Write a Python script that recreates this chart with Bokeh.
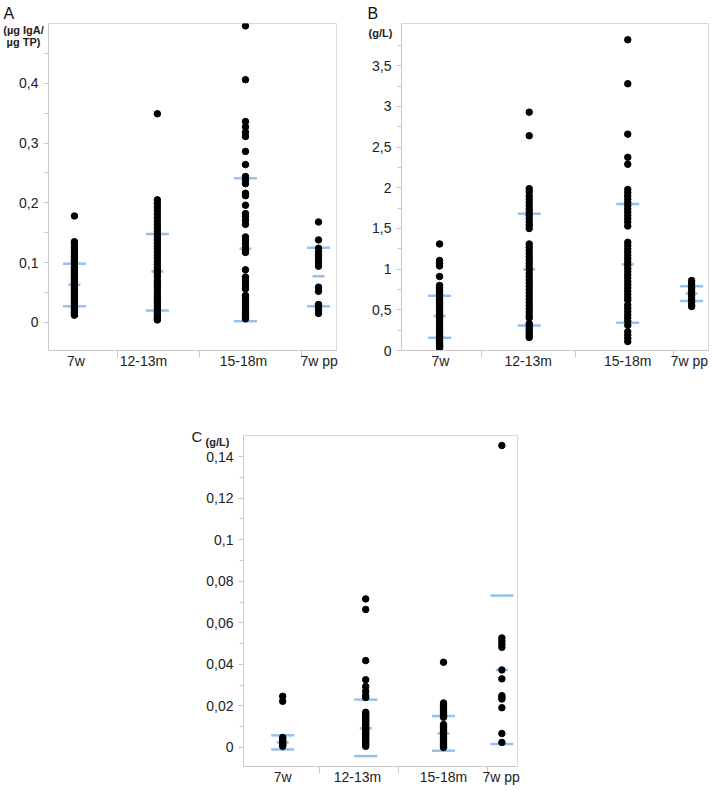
from bokeh.plotting import figure
from bokeh.models import FixedTicker, Label, Range1d, Spacer, ColumnDataSource, Title
from bokeh.layouts import column, row
from bokeh.embed import file_html
from bokeh.resources import INLINE

categories = ["7w", "12-13m", "15-18m", "7w pp"]

# ---------------- Panel A: (µg IgA / µg TP) ----------------
a_7w = [0.178, 0.135, 0.131, 0.126, 0.122, 0.118, 0.114, 0.11, 0.106, 0.102, 0.099, 0.096,
        0.092, 0.089, 0.086, 0.083, 0.08, 0.077, 0.074, 0.071, 0.068, 0.065, 0.062, 0.059,
        0.056, 0.053, 0.05, 0.047, 0.044, 0.041, 0.038, 0.035, 0.032, 0.029, 0.026, 0.023,
        0.02, 0.017, 0.014, 0.012]
a_12_13m = [0.349, 0.205, 0.199, 0.193, 0.187, 0.181, 0.175, 0.169, 0.163, 0.158, 0.153, 0.148,
            0.143, 0.138, 0.133, 0.128, 0.123, 0.118, 0.113, 0.108, 0.102, 0.097, 0.092, 0.088,
            0.084, 0.08, 0.076, 0.07, 0.066, 0.062, 0.058, 0.053, 0.048, 0.044, 0.04, 0.036,
            0.032, 0.028, 0.024, 0.02, 0.016, 0.012, 0.009, 0.006, 0.004]
a_15_18m = [0.496, 0.406, 0.336, 0.327, 0.318, 0.311, 0.286, 0.264, 0.244, 0.238, 0.232, 0.216,
            0.212, 0.196, 0.182, 0.177, 0.171, 0.164, 0.143, 0.138, 0.132, 0.127, 0.121, 0.117,
            0.088, 0.076, 0.071, 0.066, 0.061, 0.056, 0.045, 0.041, 0.037, 0.033, 0.029, 0.025,
            0.021, 0.017, 0.013, 0.009, 0.006]
a_7w_pp = [0.168, 0.138, 0.124, 0.118, 0.112, 0.106, 0.1, 0.094, 0.059, 0.052, 0.03, 0.025,
           0.02, 0.015]
a_upper = [0.098, 0.148, 0.241, 0.125]
a_mean = [0.063, 0.085, 0.123, 0.077]
a_lower = [0.027, 0.02, 0.002, 0.027]
a_ticks = [0, 0.1, 0.2, 0.3, 0.4]
a_tick_labels = ["0", "0,1", "0,2", "0,3", "0,4"]
a_minor = [0.05, 0.15, 0.25, 0.35, 0.45]

# ---------------- Panel B: (g/L) ----------------
b_7w = [1.31, 1.107, 1.07, 1.04, 0.91, 0.8, 0.775, 0.75, 0.725, 0.7, 0.675, 0.65, 0.625, 0.6,
        0.575, 0.55, 0.525, 0.5, 0.475, 0.45, 0.425, 0.4, 0.375, 0.35, 0.325, 0.3, 0.275, 0.25,
        0.225, 0.2, 0.175, 0.15, 0.125, 0.1, 0.08, 0.06, 0.045, 0.03]
b_12_13m = [2.93, 2.64, 1.99, 1.95, 1.9, 1.86, 1.82, 1.78, 1.74, 1.7, 1.66, 1.62, 1.58, 1.54,
            1.5, 1.31, 1.27, 1.23, 1.19, 1.15, 1.11, 1.07, 1.03, 0.99, 0.95, 0.91, 0.87, 0.83,
            0.79, 0.75, 0.71, 0.67, 0.63, 0.59, 0.55, 0.51, 0.47, 0.43, 0.4, 0.33, 0.3, 0.27,
            0.24, 0.21, 0.18, 0.16]
b_15_18m = [3.82, 3.28, 2.66, 2.375, 2.29, 1.98, 1.94, 1.9, 1.86, 1.82, 1.78, 1.74, 1.7, 1.66,
            1.62, 1.58, 1.53, 1.33, 1.29, 1.25, 1.21, 1.17, 1.13, 1.09, 1.05, 1.01, 0.97, 0.93,
            0.89, 0.85, 0.81, 0.77, 0.73, 0.69, 0.65, 0.62, 0.56, 0.52, 0.48, 0.44, 0.4, 0.36,
            0.31, 0.23, 0.19, 0.15, 0.11]
b_7w_pp = [0.86, 0.83, 0.8, 0.77, 0.74, 0.71, 0.68, 0.65, 0.62, 0.59, 0.56, 0.54]
b_upper = [0.673, 1.68, 1.80, 0.79]
b_mean = [0.425, 0.998, 1.06, 0.70]
b_lower = [0.157, 0.307, 0.34, 0.61]
b_ticks = [0, 0.5, 1, 1.5, 2, 2.5, 3, 3.5]
b_tick_labels = ["0", "0,5", "1", "1,5", "2", "2,5", "3", "3,5"]
b_minor = [0.25, 0.75, 1.25, 1.75, 2.25, 2.75, 3.25, 3.75]

# ---------------- Panel C: (g/L) ----------------
c_7w = [0.0246, 0.0222, 0.0048, 0.0042, 0.0036, 0.003, 0.0025, 0.002, 0.0015, 0.001, 0.0005]
c_12_13m = [0.0715, 0.0664, 0.0418, 0.0326, 0.0293, 0.027, 0.025, 0.024, 0.0169, 0.0162,
            0.0155, 0.0148, 0.014, 0.0132, 0.0125, 0.0118, 0.011, 0.0102, 0.0095, 0.0088,
            0.008, 0.0072, 0.0065, 0.0058, 0.005, 0.0042, 0.0035, 0.0028, 0.002, 0.0012, 0.0005]
c_15_18m = [0.041, 0.0214, 0.0205, 0.0196, 0.0187, 0.0178, 0.0169, 0.016, 0.0152, 0.0145,
            0.011, 0.0102, 0.0094, 0.0086, 0.0078, 0.007, 0.0062, 0.0054, 0.0046, 0.0038,
            0.003, 0.0022, 0.0014, 0.0006, 0.0]
c_7w_pp = [0.1454, 0.0527, 0.0512, 0.0497, 0.0482, 0.0373, 0.033, 0.0249, 0.0241, 0.0233,
           0.0191, 0.0067, 0.0024]
c_upper = [0.0058, 0.023, 0.0151, 0.0731]
c_mean = [0.0024, 0.0092, 0.0067, 0.0373]
c_lower = [-0.001, -0.0042, -0.0016, 0.0016]
c_ticks = [0, 0.02, 0.04, 0.06, 0.08, 0.1, 0.12, 0.14]
c_tick_labels = ["0", "0,02", "0,04", "0,06", "0,08", "0,1", "0,12", "0,14"]
c_minor = [0.01, 0.03, 0.05, 0.07, 0.09, 0.11, 0.13]

BLUE = "#97c0ed"
FONT = "Liberation Sans"
GRAY = "#c8c8c8"


def make_panel(groups, upper, mean, lower, y_start, y_end,
               ticks, tick_labels, minor, cat_x, label_x, sep_x,
               width, height, bl, br, bt, bb):
    p = figure(width=width, height=height, output_backend="svg", toolbar_location=None,
               x_range=Range1d(0, 1), y_range=Range1d(y_start, y_end),
               min_border_left=bl, min_border_right=br, min_border_top=bt,
               min_border_bottom=bb)
    frame_w = width - bl - br
    frame_h = height - bt - bb
    hw_long = 11.5 / frame_w
    hw_short = 6.0 / frame_w
    p.xgrid.visible = False
    p.ygrid.visible = False
    p.outline_line_color = "#d9d9d9"

    # mean (short) and mean +/- SD (long) lines
    xs0, xs1, ys = [], [], []
    for i, cx in enumerate(cat_x):
        for val, hw in ((upper[i], hw_long), (lower[i], hw_long), (mean[i], hw_short)):
            xs0.append(cx - hw)
            xs1.append(cx + hw)
            ys.append(val)
    p.segment(x0=xs0, y0=ys, x1=xs1, y1=ys, line_color=BLUE, line_width=2.5)

    px, py = [], []
    for cx, vals in zip(cat_x, groups):
        px.extend([cx] * len(vals))
        py.extend(vals)
    src = ColumnDataSource(dict(x=px, y=py))
    p.scatter("x", "y", source=src, size=6.5, marker="circle",
              fill_color="black", line_color="black")

    ya = p.yaxis[0]
    ya.ticker = FixedTicker(ticks=ticks, minor_ticks=minor)
    ya.major_label_overrides = {t: l for t, l in zip(ticks, tick_labels)}
    ya.axis_line_color = GRAY
    ya.major_tick_line_color = GRAY
    ya.minor_tick_line_color = GRAY
    ya.major_tick_in = 0
    ya.major_tick_out = 5
    ya.minor_tick_in = 0
    ya.minor_tick_out = 4
    ya.major_label_standoff = 5
    ya.major_label_text_font = FONT
    ya.major_label_text_font_size = "14px"
    ya.major_label_text_color = "#222222"

    xa = p.xaxis[0]
    xa.ticker = FixedTicker(ticks=label_x, minor_ticks=sep_x)
    xa.major_label_overrides = {t: l for t, l in zip(label_x, categories)}
    xa.axis_line_color = GRAY
    xa.major_tick_line_color = None
    xa.major_tick_in = 0
    xa.major_tick_out = 0
    xa.minor_tick_line_color = GRAY
    xa.minor_tick_in = 0
    xa.minor_tick_out = 7
    xa.major_label_standoff = -5
    xa.major_label_text_font = FONT
    xa.major_label_text_font_size = "14px"
    xa.major_label_text_color = "#222222"

    # helper: canvas pixel position -> data position (frame scales)
    def to_data(cx, cy):
        xv = (cx - bl) / frame_w
        yv = y_end - (cy - bt) / frame_h * (y_end - y_start)
        return xv, yv
    return p, to_data


def add_letter_title(p, letter, offset):
    p.add_layout(Title(text=letter, align="left", offset=offset, vertical_align="top",
                       text_font=FONT, text_font_size="16px", text_font_style="normal",
                       text_color="#111111", standoff=0), "above")


def add_side_text(p, to_data, side, text, cx, cy, size, bold=True, align="center"):
    xv, yv = to_data(cx, cy)
    p.add_layout(Label(x=xv, y=yv, x_units="data", y_units="data", text=text,
                       text_font=FONT, text_font_size=size,
                       text_font_style="bold" if bold else "normal",
                       text_line_height=1.0,
                       text_color="#222222", text_baseline="top", text_align=align), side)


pA, to_data_A = make_panel([a_7w, a_12_13m, a_15_18m, a_7w_pp],
                           a_upper, a_mean, a_lower, -0.047, 0.5, a_ticks, a_tick_labels,
                           a_minor, cat_x=[0.09, 0.378, 0.684, 0.9375],
                           label_x=[0.095, 0.33, 0.677, 0.94], sep_x=[0.24, 0.524, 0.878],
                           width=356, height=403, bl=48, br=20, bt=22, bb=53)
add_letter_title(pA, "A", -45)
add_side_text(pA, to_data_A, "below", "(µg IgA/\nµg TP)", 23, 23, "11px")

pB, to_data_B = make_panel([b_7w, b_12_13m, b_15_18m, b_7w_pp],
                           b_upper, b_mean, b_lower, 0, 4.02, b_ticks, b_tick_labels,
                           b_minor, cat_x=[0.124, 0.416, 0.737, 0.945],
                           label_x=[0.127, 0.413, 0.737, 0.938], sep_x=[0.259, 0.568, 0.886],
                           width=355, height=403, bl=45, br=3, bt=23, bb=51)
add_letter_title(pB, "B", -34)
add_side_text(pB, to_data_B, "below", "(g/L)", 24, 27, "11px")

pC, to_data_C = make_panel([c_7w, c_12_13m, c_15_18m, c_7w_pp],
                           c_upper, c_mean, c_lower, -0.0092, 0.1502, c_ticks, c_tick_labels,
                           c_minor, cat_x=[0.143, 0.446, 0.73, 0.943],
                           label_x=[0.143, 0.416, 0.73, 0.94], sep_x=[0.276, 0.564, 0.891],
                           width=355, height=389, bl=58, br=23, bt=32, bb=26)
add_side_text(pC, to_data_C, "above", "C", 6, 24, "15px", bold=False, align="left")
add_side_text(pC, to_data_C, "above", "(g/L)", 32, 32, "11px")

layout = column(row(pA, pB), row(Spacer(width=185, height=389), pC))

with open("out.html", "w") as f:
    f.write(file_html(layout, INLINE))
